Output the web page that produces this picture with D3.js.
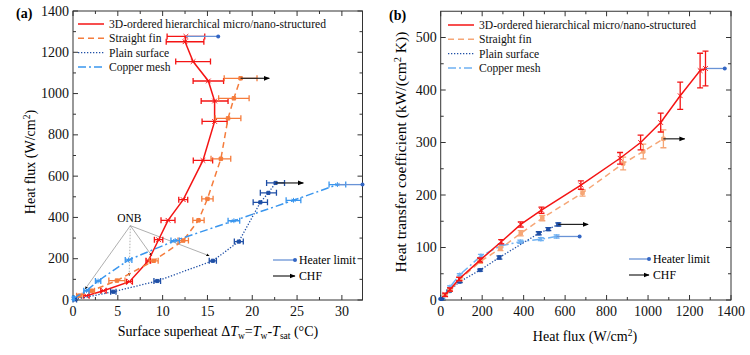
<!DOCTYPE html>
<html><head><meta charset="utf-8">
<script src="https://cdn.jsdelivr.net/npm/d3@7"></script>
<style>body{margin:0;background:#fff} svg text{font-family:"Liberation Serif","DejaVu Serif",serif}</style>
</head><body><svg id="c" width="750" height="355" font-family="Liberation Serif, DejaVu Serif, serif"></svg>
<script>
// ---------------- data ----------------
const seriesNames = ["3D-ordered hierarchical micro/nano-structured","Straight fin","Plain surface","Copper mesh"];
// 3D-ordered hierarchical
const q3D     = [21,45,89,190,292,386,486,676,865,964,1061,1155,1251,1277];
const dT3D    = [1.5,3.4,6.3,8.4,9.55,10.6,12.3,14.5,15.8,15.8,15.1,13.4,12.5,12.6];
const dT3DErr = [0.3,0.3,0.33,0.26,0.47,0.78,0.5,1.08,1.4,1.5,1.7,1.94,2.1,2.1];
const h3D     = [10,20,40,76,111,144,171,219,270,300,338,389,437,441];
const h3DErr  = [3,3,3,4,4,5,6,8,11,14,18,26,33,33];
// Straight fin
const qSF     = [21,45,94,190,288,386,490,684,880,977,1074];
const dTSF    = [0.7,2.1,4.9,9.0,12.3,14.0,15.0,16.5,17.3,17.95,18.7];
const dTSFErr = [0.3,0.3,0.9,0.5,0.58,0.63,0.63,1.1,1.43,1.7,1.83];
const hSF     = [9,19,40,73,98,127,156,204,260,283,307];
const hSFErr  = [2,2,3,3,4,5,5,6,12,14,17];
// Plain surface
const qPS     = [3,40,92,190,283,473,519,567];
const dTPS    = [0.2,4.5,9.4,15.6,18.5,20.9,21.8,22.6];
const dTPSErr = [0.2,0.3,0.37,0.4,0.5,0.8,0.9,1.0];
const hPS     = [2,17,35,57,81,127,135,144];
const hPSErr  = [1,2,2,2,3,3,3,3];
// Copper mesh
const qCM     = [8,45,92,194,288,384,483,559];
const dTCM    = [0.05,1.5,2.8,6.2,11.4,17.95,24.6,29.5];
const dTCMErr = [0.1,0.3,0.3,0.37,0.47,0.65,0.82,0.93];
const hCM     = [3,25,48,84,103,111,116,121];
const hCMErr  = [1,2,2,3,3,3,3,3];
// Heater limit (3D, copper mesh) and CHF (straight fin, plain) end points
const heaterLimitDT = [16.2, 32.3];
const heaterLimitQ  = [1370, 670];
const chfDT = [21.9, 25.7];
const chfQ  = [1177, 711];
// ONB annotation targets (superheat, heat flux)
const onbTargets = [[1.35,53],[6.27,117],[8.8,214],[15.2,214]];
const onbAnchor = [6.4,360];
// axes ticks
const xTicksA = [0,5,10,15,20,25,30];
const yTicksA = [0,200,400,600,800,1000,1200,1400];
const xTicksB = [0,200,400,600,800,1000,1200,1400];
const yTicksB = [0,100,200,300,400,500];

// ---------------- styles ----------------
const FONT = "Liberation Serif, DejaVu Serif, serif";
const C = {red:"#f41414", orange:"#f57c3c", plain:"#1f4fa6", copper:"#3a96ee",
           orangeB:"#f6a676", copperB:"#6fb1f2", heater:"#6993d6", heaterDot:"#3366c4"};
const svg = d3.select("#c");
const defs = svg.append("defs");
function arrowMarker(id, color, size){
  defs.append("marker").attr("id",id).attr("viewBox","0 0 10 10").attr("refX",9).attr("refY",5)
    .attr("markerWidth",size).attr("markerHeight",size).attr("orient","auto")
    .append("path").attr("d","M0,1 L10,5 L0,9 Z").attr("fill",color);
}
arrowMarker("arrK","#000",5);
arrowMarker("arrS","#000",4);

const series = [
  {name:seriesNames[0], q:q3D, dT:dT3D, dTe:dT3DErr, h:h3D, he:h3DErr, colA:C.red, colB:C.red, dash:null, sym:d3.symbolTimes, w:1.5, ms:16},
  {name:seriesNames[1], q:qSF, dT:dTSF, dTe:dTSFErr, h:hSF, he:hSFErr, colA:C.orange, colB:C.orangeB, dash:"6,4", sym:d3.symbolSquare, w:1.5, ms:12},
  {name:seriesNames[2], q:qPS, dT:dTPS, dTe:dTPSErr, h:hPS, he:hPSErr, colA:C.plain, colB:C.plain, dash:"1.3,1.7", sym:d3.symbolSquare, w:1.3, ms:10},
  {name:seriesNames[3], q:qCM, dT:dTCM, dTe:dTCMErr, h:hCM, he:hCMErr, colA:C.copper, colB:C.copperB, dash:"8,3,2,3", sym:d3.symbolAsterisk || d3.symbolCross, w:1.5, ms:16}
];

function frame(g, x, y, xt, xMinor, yt, yMinor){
  const [x0,x1] = x.range(), [y0,y1] = y.range();
  g.append("rect").attr("x",x0).attr("y",y1).attr("width",x1-x0).attr("height",y0-y1)
    .attr("fill","none").attr("stroke","#333").attr("stroke-width",1);
  const tk = g.append("g").attr("stroke","#333").attr("stroke-width",1);
  xt.forEach(v=>{ const p=x(v);
    tk.append("line").attr("x1",p).attr("x2",p).attr("y1",y0).attr("y2",y0-5);
    tk.append("line").attr("x1",p).attr("x2",p).attr("y1",y1).attr("y2",y1+5);});
  xMinor.forEach(v=>{ const p=x(v);
    tk.append("line").attr("x1",p).attr("x2",p).attr("y1",y0).attr("y2",y0-3);
    tk.append("line").attr("x1",p).attr("x2",p).attr("y1",y1).attr("y2",y1+3);});
  yt.forEach(v=>{ const p=y(v);
    tk.append("line").attr("y1",p).attr("y2",p).attr("x1",x0).attr("x2",x0+5);
    tk.append("line").attr("y1",p).attr("y2",p).attr("x1",x1).attr("x2",x1-5);});
  yMinor.forEach(v=>{ const p=y(v);
    tk.append("line").attr("y1",p).attr("y2",p).attr("x1",x0).attr("x2",x0+3);
    tk.append("line").attr("y1",p).attr("y2",p).attr("x1",x1).attr("x2",x1-3);});
  const lab = g.append("g").attr("font-size",14).attr("fill","#111").attr("font-family",FONT);
  xt.forEach(v=>lab.append("text").attr("x",x(v)).attr("y",y0+16).attr("text-anchor","middle").text(v));
  yt.forEach(v=>lab.append("text").attr("x",x0-4).attr("y",y(v)+4.5).attr("text-anchor","end").text(v));
}

// ---------------- panel (a) ----------------
const xA = d3.scaleLinear().domain([0,32.3]).range([73,362.5]);
const yA = d3.scaleLinear().domain([0,1400]).range([300,11]);
const gA = svg.append("g").attr("font-family",FONT);
frame(gA, xA, yA, xTicksA, d3.range(2.5,32.3,5), yTicksA, d3.range(100,1400,200));

// ONB annotation
const onb = gA.append("g");
onbTargets.forEach((t,i)=>{
  onb.append("line").attr("x1",xA(onbAnchor[0])).attr("y1",yA(onbAnchor[1]))
    .attr("x2",xA(t[0])).attr("y2",yA(t[1]))
    .attr("stroke","#9a9a9a").attr("stroke-width",0.8)
    .attr("stroke-dasharray", i===1? "1.5,1.5": null)
    .attr("marker-end","url(#arrS)");
});
onb.append("text").attr("x",xA(onbAnchor[0])-1).attr("y",yA(onbAnchor[1])-3.5)
  .attr("text-anchor","middle").attr("font-size",11.5).text("ONB");

function drawLeftSeries(s, i){
  const g = gA.append("g");
  const pts = s.q.map((q,k)=>({x:s.dT[k], y:q, e:s.dTe[k]}));
  g.append("path").datum(pts).attr("fill","none").attr("stroke",s.colA).attr("stroke-width",s.w)
    .attr("stroke-dasharray",s.dash).attr("d",d3.line().x(d=>xA(d.x)).y(d=>yA(d.y)));
  pts.forEach(d=>{
    const yy=yA(d.y), xa=xA(d.x-d.e), xb=xA(d.x+d.e);
    g.append("path").attr("d",`M${xa},${yy}H${xb}M${xa},${yy-3}V${yy+3}M${xb},${yy-3}V${yy+3}`)
      .attr("stroke",s.colA).attr("stroke-width",1.3).attr("fill","none");
    g.append("path").attr("transform",`translate(${xA(d.x)},${yy})`)
      .attr("d",d3.symbol(s.sym,s.ms)()).attr("fill",s.colA).attr("stroke",s.colA).attr("stroke-width",1);
  });
}
series.forEach(drawLeftSeries);

// heater limits & CHF in panel (a)
function hLine(g, x1, x2, y, col, dotCol){
  g.append("line").attr("x1",x1).attr("x2",x2).attr("y1",y).attr("y2",y).attr("stroke",col).attr("stroke-width",1.3);
  g.append("circle").attr("cx",x2).attr("cy",y).attr("r",2).attr("fill",dotCol);
}
function chfLine(g, x1, x2, y){
  g.append("line").attr("x1",x1).attr("x2",x2).attr("y1",y).attr("y2",y).attr("stroke","#222").attr("stroke-width",1.2)
    .attr("marker-end","url(#arrK)");
}
hLine(gA, xA(dT3D[dT3D.length-1]), xA(heaterLimitDT[0]), yA(q3D[q3D.length-1]), C.heater, C.heaterDot);
hLine(gA, xA(dTCM[dTCM.length-1]), xA(heaterLimitDT[1]), yA(qCM[qCM.length-1]), C.heater, C.heaterDot);
chfLine(gA, xA(dTSF[dTSF.length-1]), xA(chfDT[0]), yA(qSF[qSF.length-1]));
chfLine(gA, xA(dTPS[dTPS.length-1]), xA(chfDT[1]), yA(qPS[qPS.length-1]));

// legends
function legend(g, x0, y0, dy, useB){
  series.forEach((s,i)=>{
    const y=y0+i*dy;
    g.append("line").attr("x1",x0).attr("x2",x0+26).attr("y1",y).attr("y2",y)
      .attr("stroke",useB?s.colB:s.colA).attr("stroke-width",s.w).attr("stroke-dasharray",s.dash);
    g.append("text").attr("x",x0+31).attr("y",y+4).attr("font-size",11.6).attr("fill","#111").text(s.name);
  });
}
legend(gA, 78, 24, 14.3, false);
function legend2(g, x0, y0, len){
  hLine(g, x0, x0+len, y0, C.heater, C.heaterDot);
  g.append("text").attr("x",x0+len+4).attr("y",y0+4).attr("font-size",11.8).text("Heater limit");
  chfLine(g, x0, x0+len, y0+16);
  g.append("text").attr("x",x0+len+4).attr("y",y0+20).attr("font-size",11.8).text("CHF");
}
legend2(gA, 273, 260, 22);

// labels (a)
svg.append("text").attr("x",16).attr("y",18).attr("font-size",14).attr("font-weight","bold").text("(a)");
svg.append("text").attr("transform","translate(35,162) rotate(-90)").attr("text-anchor","middle").attr("font-size",14)
  .html('Heat flux (W/cm<tspan dy="-5" font-size="9.5">2</tspan><tspan dy="5">)</tspan>');
svg.append("text").attr("x",218).attr("y",336).attr("text-anchor","middle").attr("font-size",14)
  .html('Surface superheat \u0394<tspan font-style="italic">T</tspan><tspan dy="3" font-size="9.5">w</tspan><tspan dy="-3">=</tspan><tspan font-style="italic">T</tspan><tspan dy="3" font-size="9.5">w</tspan><tspan dy="-3">-</tspan><tspan font-style="italic">T</tspan><tspan dy="3" font-size="9.5">sat</tspan><tspan dy="-3"> (\u00b0C)</tspan>');

// ---------------- panel (b) ----------------
const xB = d3.scaleLinear().domain([0,1400]).range([440.7,731]);
const yB = d3.scaleLinear().domain([0,550]).range([300,11.25]);
const gB = svg.append("g").attr("font-family",FONT);
frame(gB, xB, yB, xTicksB, d3.range(100,1400,200), yTicksB, d3.range(50,550,100));

function drawRightSeries(s){
  const g = gB.append("g");
  const pts = s.q.map((q,k)=>({x:q, y:s.h[k], e:s.he[k]}));
  g.append("path").datum(pts).attr("fill","none").attr("stroke",s.colB).attr("stroke-width",s.w)
    .attr("stroke-dasharray",s.dash).attr("d",d3.line().x(d=>xB(d.x)).y(d=>yB(d.y)));
  pts.forEach(d=>{
    const xx=xB(d.x), ya=yB(d.y-d.e), yb=yB(d.y+d.e);
    g.append("path").attr("d",`M${xx},${ya}V${yb}M${xx-3},${ya}H${xx+3}M${xx-3},${yb}H${xx+3}`)
      .attr("stroke",s.colB).attr("stroke-width",1.3).attr("fill","none");
    g.append("path").attr("transform",`translate(${xx},${yB(d.y)})`)
      .attr("d",d3.symbol(s.sym,s.ms)()).attr("fill",s.colB).attr("stroke",s.colB).attr("stroke-width",1);
  });
}
series.slice().reverse().forEach(drawRightSeries);
hLine(gB, xB(q3D[q3D.length-1]), xB(heaterLimitQ[0]), yB(h3D[h3D.length-1]), C.heater, C.heaterDot);
hLine(gB, xB(qCM[qCM.length-1]), xB(heaterLimitQ[1]), yB(hCM[hCM.length-1]), C.heater, C.heaterDot);
chfLine(gB, xB(qSF[qSF.length-1]), xB(chfQ[0]), yB(hSF[hSF.length-1]));
chfLine(gB, xB(qPS[qPS.length-1]), xB(chfQ[1]), yB(hPS[hPS.length-1]));
legend(gB, 448, 25, 14.3, true);
legend2(gB, 629, 259, 20);

svg.append("text").attr("x",389).attr("y",20).attr("font-size",14).attr("font-weight","bold").text("(b)");
svg.append("text").attr("transform","translate(406,152) rotate(-90)").attr("text-anchor","middle").attr("font-size",15.5)
  .html('Heat transfer coefficient (kW/(cm<tspan dy="-5" font-size="10.5">2</tspan><tspan dy="5"> K))</tspan>');
svg.append("text").attr("x",585).attr("y",341).attr("text-anchor","middle").attr("font-size",14)
  .html('Heat flux (W/cm<tspan dy="-5" font-size="9.5">2</tspan><tspan dy="5">)</tspan>');
</script></body></html>
